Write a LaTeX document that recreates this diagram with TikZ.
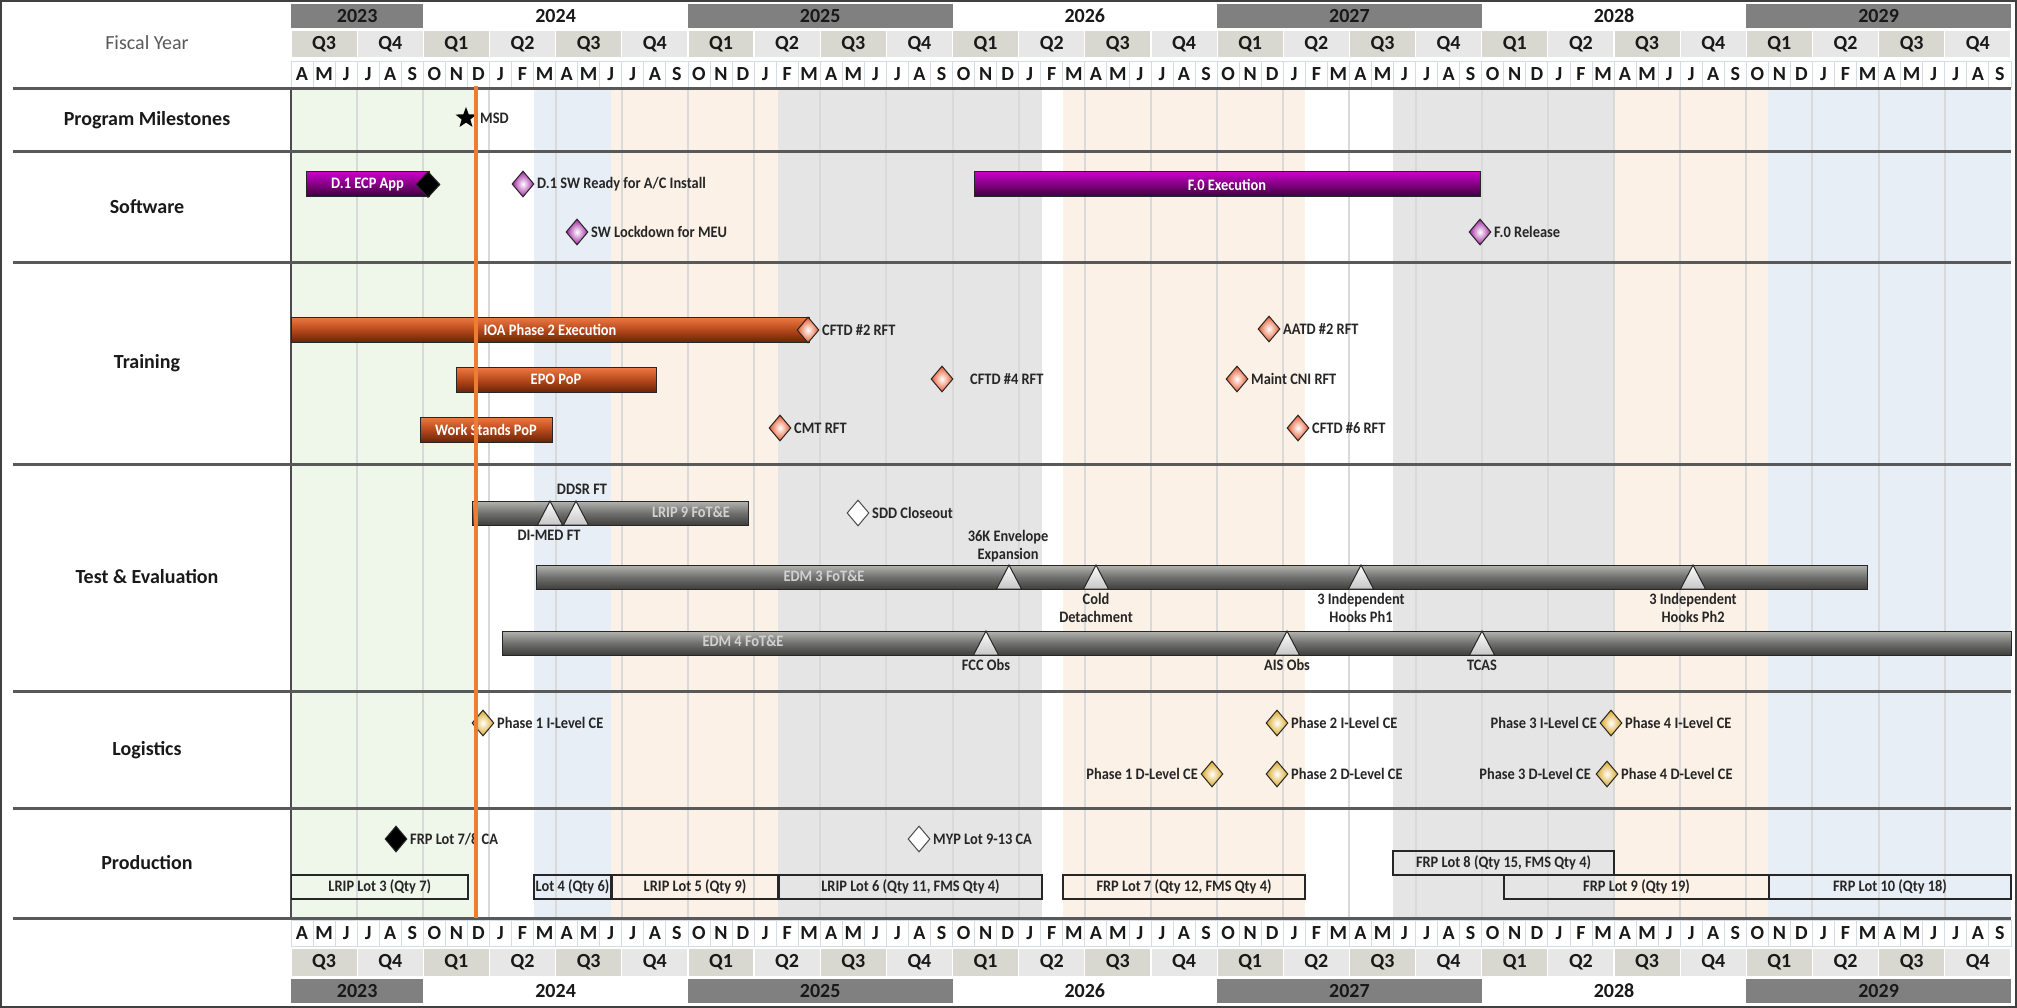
\documentclass[tikz,border=0pt]{standalone}
\usepackage{fontspec}
\setmainfont{Carlito}
\newfontfamily\condf{Carlito}[FakeStretch=0.9]
\usetikzlibrary{shapes.geometric}
\definecolor{mline}{HTML}{D3DCE6}
\definecolor{qdark}{HTML}{D8D8D0}
\definecolor{qlight}{HTML}{E7E7E7}
\definecolor{ydark}{HTML}{808080}
\definecolor{bgGreen}{HTML}{EFF6EA}
\definecolor{bgBlue}{HTML}{E8EEF6}
\definecolor{bgPeach}{HTML}{FCF1E7}
\definecolor{bgGray}{HTML}{E5E5E5}
\definecolor{ptop}{HTML}{C800C8}
\definecolor{pbot}{HTML}{3A003A}
\definecolor{otop}{HTML}{EE7A45}
\definecolor{omid}{HTML}{B84A1C}
\definecolor{obot}{HTML}{6A2408}
\definecolor{gtop}{HTML}{B4B4B0}
\definecolor{gmid}{HTML}{707070}
\definecolor{gbot}{HTML}{3E3E3C}
\definecolor{pdiaC}{HTML}{A020A0}
\definecolor{odiaC}{HTML}{E8572A}
\definecolor{ydiaC}{HTML}{D9A520}
\definecolor{todayC}{HTML}{ED7D31}
\newcommand\hdrfont{\bfseries\fontsize{20}{22}\selectfont}
\newcommand\catfont{\bfseries\fontsize{20}{22}\selectfont}
\newcommand\lblfont{\condf\bfseries\fontsize{16}{18}\selectfont}
\newcommand\trimark[2]{\path[tri] ({#1-12.5},#2) -- (#1,{#2-24}) -- ({#1+12.5},#2) -- cycle;}
\begin{document}
\begin{tikzpicture}[x=1pt,y=-1pt,
  hdr/.style={font=\hdrfont, text=black!90, inner sep=0, outer sep=0},
  mcell/.style={hdr, draw=mline, line width=0.8, fill=white, minimum width=22.05, minimum height=26},
  qcell/.style={hdr, draw=white, line width=1.2, minimum width=66.15, minimum height=28},
  ycell/.style={hdr, minimum height=24},
  cat/.style={font=\catfont, text=black!90},
  lbl/.style={font=\lblfont, text=black!85, inner sep=1},
  lblc/.style={lbl, align=center},
  bar/.style={draw=black!85, line width=1, minimum height=25, inner sep=0, font=\lblfont, text=white},
  pbar/.style={bar, top color=ptop, bottom color=pbot},
  obar/.style={bar, top color=otop, bottom color=obot, middle color=omid},
  gbar/.style={bar, minimum height=24, top color=gtop, bottom color=gbot, middle color=gmid},
  gtxt/.style={font=\lblfont, text=black!18},
  dia/.style={diamond, inner sep=0, minimum width=22, minimum height=26, draw=black!85, line width=1},
  pdia/.style={dia, inner color=white, outer color=pdiaC},
  odia/.style={dia, inner color=white, outer color=odiaC},
  ydia/.style={dia, inner color=white, outer color=ydiaC},
  wdia/.style={dia, fill=white, draw=black!70},
  kdia/.style={dia, fill=black},
  tri/.style={draw=black!85, line width=1, top color=white, bottom color=gray!45},
  box/.style={draw=black!85, line width=1.6, minimum height=24, inner sep=0, font=\lblfont, text=black!85},
  rowline/.style={draw=black!65, line width=3},
  qline/.style={draw=black!15, line width=2},
  today/.style={draw=todayC, line width=3.5}
]
\useasboundingbox (0,0) rectangle (2017,1008);
\fill[white] (0,0) rectangle (2017,1008);

% background bands
\fill[bgGreen] (291,89) rectangle (474,918);
\fill[bgBlue] (534,89) rectangle (611,918);
\fill[bgPeach] (611,89) rectangle (778,918);
\fill[bgGray] (778,89) rectangle (1042,918);
\fill[bgPeach] (1063,89) rectangle (1305,918);
\fill[bgGray] (1393,89) rectangle (1614,918);
\fill[bgPeach] (1614,89) rectangle (1768,918);
\fill[bgBlue] (1768,89) rectangle (2011,918);

% quarter grid lines
\foreach \k in {1,...,25} {\draw[qline] ({291+66.15*\k},89) -- ({291+66.15*\k},918);}
\draw[black!70, line width=1.2] (291,89) -- (291,918);

% header: months
\foreach \l [count=\i from 0] in {A,M,J,J,A,S,O,N,D,J,F,M,A,M,J,J,A,S,O,N,D,J,F,M,A,M,J,J,A,S,O,N,D,J,F,M,A,M,J,J,A,S,O,N,D,J,F,M,A,M,J,J,A,S,O,N,D,J,F,M,A,M,J,J,A,S,O,N,D,J,F,M,A,M,J,J,A,S} {
  \node[mcell] (mt\i) at ({291+22.05*(\i+0.5)},74) {\l};
  \node[mcell] (mb\i) at ({291+22.05*(\i+0.5)},933.5) {\l};
}
% header: quarters
\foreach \q [count=\i from 0] in {3,4,1,2,3,4,1,2,3,4,1,2,3,4,1,2,3,4,1,2,3,4,1,2,3,4} {
  \ifodd\q \def\qc{qdark}\else\def\qc{qlight}\fi
  \node[qcell, fill=\qc] (qt\i) at ({291+66.15*(\i+0.5)},44) {Q\q};
  \node[qcell, fill=\qc] (qb\i) at ({291+66.15*(\i+0.5)},962.5) {Q\q};
}
% header: years
\foreach \y/\a/\b/\c in {2023/0/6/ydark,2024/6/18/white,2025/18/30/ydark,2026/30/42/white,2027/42/54/ydark,2028/54/66/white,2029/66/78/ydark} {
  \node[ycell, fill=\c, minimum width={22.05*(\b-\a)}] (yt\y) at ({291+22.05*(\a+\b)/2},16) {\y};
  \node[ycell, fill=\c, minimum width={22.05*(\b-\a)}] (yb\y) at ({291+22.05*(\a+\b)/2},991) {\y};
}
\node[font=\fontsize{20}{22}\selectfont, text=black!65] (fy) at (147,43) {Fiscal Year};

% row separators
\foreach \yy in {89,152,263,464,691,808,918} {\draw[rowline] (13,\yy) -- (2011,\yy);}

% category labels
\node[cat] (cpm) at (147,120) {Program Milestones};
\node[cat] (csw) at (147,207) {Software};
\node[cat] (ctr) at (147,363) {Training};
\node[cat] (cte) at (147,577) {Test \& Evaluation};
\node[cat] (clg) at (147,750) {Logistics};
\node[cat] (cpr) at (147,863) {Production};

% Program milestones
\node[star, star points=5, star point ratio=2.4, minimum size=22, inner sep=0, fill=black] (msd) at (466,118) {};
\node[lbl, anchor=west] (msdl) at (479,118) {MSD};

% Software
\node[pbar, minimum width=123] (ecp) at (367.5,184.5) {D.1 ECP App};
\node[kdia, minimum width=24] (ecpd) at (428,184.5) {};
\node[pdia] (swr) at (523,184) {};
\node[lbl, anchor=west] (swrl) at (536,184) {D.1 SW Ready for A/C Install};
\node[pdia] (swl) at (577,232) {};
\node[lbl, anchor=west] (swll) at (590,232) {SW Lockdown for MEU};
\node[pbar, minimum width=506] (f0) at (1227,184.5) {F.0 Execution};
\node[pdia] (f0r) at (1480,232) {};
\node[lbl, anchor=west] (f0rl) at (1493,232) {F.0 Release};

% Training
\node[obar, minimum width=518] (ioa) at (550,329.5) {IOA Phase 2 Execution};
\node[odia] (cftd2) at (808,330) {};
\node[lbl, anchor=west] (cftd2l) at (821,330) {CFTD \#2 RFT};
\node[obar, minimum width=200] (epo) at (556,379.5) {EPO PoP};
\node[obar, minimum width=132] (ws) at (486,429.5) {Work Stands PoP};
\node[odia] (cftd4) at (942,379) {};
\node[lbl, anchor=west] (cftd4l) at (969,379) {CFTD \#4 RFT};
\node[odia] (cmt) at (780,428) {};
\node[lbl, anchor=west] (cmtl) at (793,428) {CMT RFT};
\node[odia] (aatd) at (1269,329) {};
\node[lbl, anchor=west] (aatdl) at (1282,329) {AATD \#2 RFT};
\node[odia] (cni) at (1237,379) {};
\node[lbl, anchor=west] (cnil) at (1250,379) {Maint CNI RFT};
\node[odia] (cftd6) at (1298,428) {};
\node[lbl, anchor=west] (cftd6l) at (1311,428) {CFTD \#6 RFT};

% Test & Evaluation
\node[gbar, minimum width=276] (lrip9) at (610,513) {};
\node[gtxt] (lrip9t) at (691,512) {LRIP 9 FoT\&E};
\trimark{550}{525}
\trimark{576}{525}
\node[lbl] (ddsr) at (582,489) {DDSR FT};
\node[lbl] (dimed) at (549,535) {DI-MED FT};
\node[wdia] (sdd) at (858,513) {};
\node[lbl, anchor=west] (sddl) at (871,513) {SDD Closeout};
\node[gbar, minimum width=1331] (edm3) at (1201.5,577) {};
\node[gtxt] (edm3t) at (824,576) {EDM 3 FoT\&E};
\trimark{1009}{589}
\trimark{1096}{589}
\trimark{1361}{589}
\trimark{1693}{589}
\node[lblc] (k36) at (1008,546) {36K Envelope\\Expansion};
\node[lblc] (cold) at (1096,608) {Cold\\Detachment};
\node[lblc] (hk1) at (1361,608) {3 Independent\\Hooks Ph1};
\node[lblc] (hk2) at (1693,608) {3 Independent\\Hooks Ph2};
\node[gbar, minimum width=1509] (edm4) at (1256.5,643) {};
\node[gtxt] (edm4t) at (743,641) {EDM 4 FoT\&E};
\trimark{986}{655}
\trimark{1287}{655}
\trimark{1482}{655}
\node[lbl] (fcc) at (986,665) {FCC Obs};
\node[lbl] (ais) at (1287,665) {AIS Obs};
\node[lbl] (tcas) at (1482,665) {TCAS};

% Logistics
\node[ydia] (p1i) at (483,723) {};
\node[lbl, anchor=west] (p1il) at (496,723) {Phase 1 I-Level CE};
\node[ydia] (p2i) at (1277,723) {};
\node[lbl, anchor=west] (p2il) at (1290,723) {Phase 2 I-Level CE};
\node[ydia] (p1d) at (1212,774) {};
\node[lbl, anchor=east] (p1dl) at (1199,774) {Phase 1 D-Level CE};
\node[ydia] (p2d) at (1277,774) {};
\node[lbl, anchor=west] (p2dl) at (1290,774) {Phase 2 D-Level CE};
\node[ydia] (p34i) at (1611,723) {};
\node[lbl, anchor=east] (p3il) at (1598,723) {Phase 3 I-Level CE};
\node[lbl, anchor=west] (p4il) at (1624,723) {Phase 4 I-Level CE};
\node[ydia] (p34d) at (1607,774) {};
\node[lbl, anchor=east] (p3dl) at (1592,774) {Phase 3 D-Level CE};
\node[lbl, anchor=west] (p4dl) at (1620,774) {Phase 4 D-Level CE};

% Production
\node[kdia] (frp78) at (396,839) {};
\node[lbl, anchor=west] (frp78l) at (409,839) {FRP Lot 7/8 CA};
\node[wdia] (myp) at (919,839) {};
\node[lbl, anchor=west] (mypl) at (932,839) {MYP Lot 9-13 CA};
\node[box, minimum width=176.5] (lot3) at (379.75,887) {LRIP Lot 3 (Qty 7)};
\node[box, minimum width=77] (lot4) at (572.5,887) {Lot 4 (Qty 6)};
\node[box, minimum width=166] (lot5) at (695,887) {LRIP Lot 5 (Qty 9)};
\node[box, minimum width=263] (lot6) at (910.5,887) {LRIP Lot 6 (Qty 11, FMS Qty 4)};
\node[box, minimum width=242] (lot7) at (1184,887) {FRP Lot 7 (Qty 12, FMS Qty 4)};
\node[box, minimum width=221] (lot8) at (1503.5,863) {FRP Lot 8 (Qty 15, FMS Qty 4)};
\node[box, minimum width=265] (lot9) at (1636.5,887) {FRP Lot 9 (Qty 19)};
\node[box, minimum width=242] (lot10) at (1890,887) {FRP Lot 10 (Qty 18)};

% today line
\draw[today] (476,86) -- (476,918);

% frame
\draw[black!75, line width=2] (1,1) rectangle (2016,1007);
\end{tikzpicture}
\end{document}
